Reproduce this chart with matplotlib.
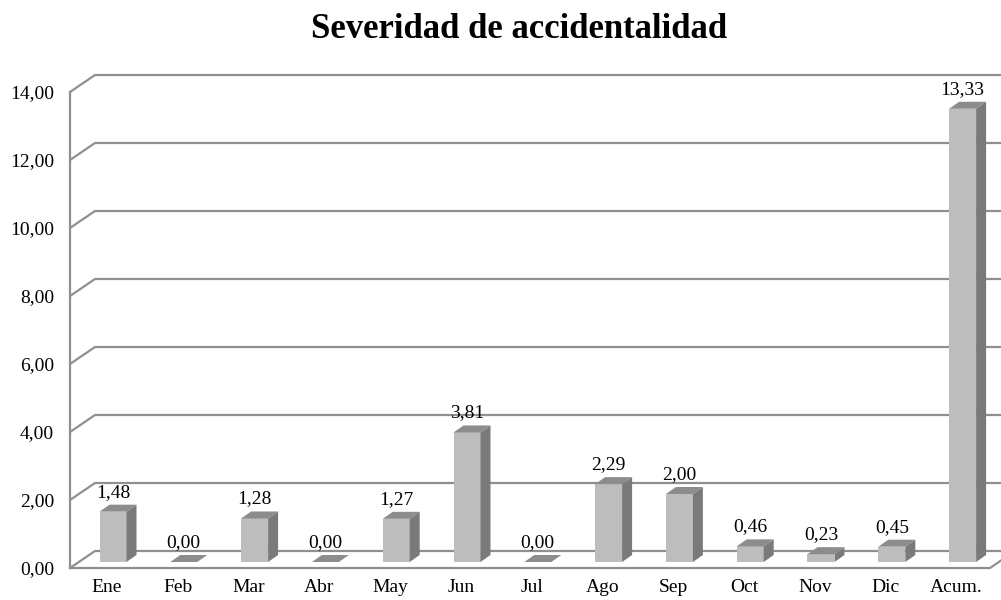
import matplotlib
matplotlib.use("Agg")
import matplotlib.pyplot as plt
from matplotlib.patches import Polygon

categories = ["Ene", "Feb", "Mar", "Abr", "May", "Jun", "Jul", "Ago", "Sep", "Oct", "Nov", "Dic", "Acum."]
values = [1.48, 0.00, 1.28, 0.00, 1.27, 3.81, 0.00, 2.29, 2.00, 0.46, 0.23, 0.45, 13.33]
value_labels = ["1,48", "0,00", "1,28", "0,00", "1,27", "3,81", "0,00", "2,29", "2,00", "0,46", "0,23", "0,45", "13,33"]
yticks = [0, 2, 4, 6, 8, 10, 12, 14]
ytick_labels = ["0,00", "2,00", "4,00", "6,00", "8,00", "10,00", "12,00", "14,00"]
title = "Severidad de accidentalidad"

SERIF = ["Liberation Serif", "DejaVu Serif"]

W, H = 1001, 600
fig = plt.figure(figsize=(W / 100, H / 100), dpi=100)
ax = fig.add_axes([0, 0, 1, 1])

# pixel layout (style)
X0 = 106.0     # px of first category on front plane
STEP = 70.8    # px per category
Y0 = 32.0      # px from bottom of value 0 on front plane
UNIT = 34.0    # px per value unit
ax.set_xlim(-X0 / STEP, (W - X0) / STEP)
ax.set_ylim(-Y0 / UNIT, (H - Y0) / UNIT)
ax.axis("off")

def dx(px):
    return px / STEP

def dy(px):
    return px / UNIT

grid_col = "#8f8f8f"
lw = 1.6
DX, DY = dx(25), dy(17)          # wall depth
xa = dx(70 - X0)                 # front axis x
xr = dx(990 - X0)                # right end of floor front
xend = dx(W + 40 - X0)

# back wall gridlines with left-wall diagonals
for t in yticks:
    ax.plot([xa, xa + DX, xend], [t, t + DY, t + DY], color=grid_col, lw=lw,
            solid_capstyle="butt", zorder=1)
# floor
ax.plot([xa, xr, xr + DX], [0, 0, DY], color=grid_col, lw=lw, zorder=1)
# front vertical axis
ax.plot([xa, xa], [0, yticks[-1]], color=grid_col, lw=lw, zorder=1)

FS = 14

# tick labels
for t, lab in zip(yticks, ytick_labels):
    ax.text(dx(54 - X0), t - dy(2), lab, ha="right", va="center",
            fontsize=FS, family=SERIF, color="#000000")

# bars
bw = dx(27)
off_x, off_y = dx(7), dy(6)
ddx, ddy = dx(10), dy(7)
front_col = "#bdbdbd"
side_col = "#7a7a7a"
top_col = "#8c8c8c"
for i, (v, lab) in enumerate(zip(values, value_labels)):
    xc = i + off_x
    xl = xc - bw / 2
    b = off_y
    top = b + v
    if v > 0:
        ax.add_patch(Polygon([(xl, b), (xl + bw, b), (xl + bw, top), (xl, top)],
                             closed=True, facecolor=front_col, edgecolor="none", zorder=3))
        ax.add_patch(Polygon([(xl + bw, b), (xl + bw + ddx, b + ddy),
                              (xl + bw + ddx, top + ddy), (xl + bw, top)],
                             closed=True, facecolor=side_col, edgecolor="none", zorder=3))
    ax.add_patch(Polygon([(xl, top), (xl + bw, top), (xl + bw + ddx, top + ddy), (xl + ddx, top + ddy)],
                         closed=True, facecolor=top_col, edgecolor="none", zorder=3))
    ax.text(xc, top + ddy + dy(12.5), lab, ha="center", va="center",
            fontsize=FS, family=SERIF, color="#000000", zorder=4)

# category labels
for i, c in enumerate(categories):
    ax.text(i + dx(1), -dy(20), c, ha="center", va="center",
            fontsize=FS, family=SERIF, color="#000000")

fig.text(519 / W, 1 - 30 / H, title, ha="center", va="center",
         fontsize=25, fontweight="bold", family=SERIF, color="#000000")

fig.savefig("out.png", dpi=100)
